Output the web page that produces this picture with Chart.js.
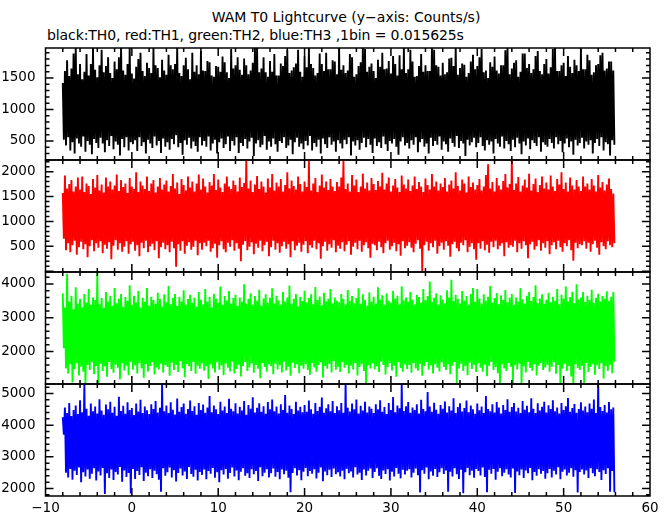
<!DOCTYPE html>
<html>
<head>
<meta charset="utf-8">
<title>WAM T0 Lightcurve</title>
<script src="https://cdn.jsdelivr.net/npm/chart.js@4.4.1/dist/chart.umd.min.js"></script>
<style>
  body { margin: 0; background: #fff; }
  #wrap { position: relative; width: 672px; height: 515px; overflow: hidden; background: #fff;
          font-family: "DejaVu Sans", sans-serif; }
  .txt { position: absolute; white-space: nowrap; font-size: 14px; line-height: 16px; color: #000; }
  #title { left: 0; width: 692px; text-align: center; top: 9px; }
  #subtitle { left: 47px; top: 27px; letter-spacing: -0.1px; }
  canvas { position: absolute; left: 0; }
</style>
</head>
<body>
<div id="wrap">
  <div class="txt" id="title">WAM T0 Lightcurve (y−axis: Counts/s)</div>
  <div class="txt" id="subtitle">black:TH0, red:TH1, green:TH2, blue:TH3 ,1bin = 0.015625s</div>
  <canvas id="th0" width="672" height="120" style="top:44px"></canvas>
  <canvas id="th1" width="672" height="120" style="top:156px"></canvas>
  <canvas id="th2" width="672" height="120" style="top:268px"></canvas>
  <canvas id="th3" width="672" height="135" style="top:380px"></canvas>
</div>
<script>
// light curve starts at -8 s; one point every 0.125 s, alternating upper / lower excursion
const tStart = -8;
const tStep = 0.125;
const xTicks = [-10, 0, 10, 20, 30, 40, 50, 60];

// TH0 (black)
const th0High = [
  1420, 1610, 1780, 1530, 1650, 1890, 1990, 1560, 1720, 1480, 1600, 1880, 1540, 1720, 1990, 1630,
  1510, 1700, 1950, 1590, 1690, 1830, 1580, 1500, 1760, 1640, 1830, 1990, 1620, 1550, 1720, 2010,
  1570, 1490, 1680, 1800, 1900, 1610, 1530, 1740, 1660, 1580, 1980, 1700, 1660, 1510, 1790, 1620,
  1550, 1870, 1700, 1640, 1720, 1990, 1580, 1530, 1700, 1820, 1640, 1480, 1900, 1600, 1700, 1560,
  1930, 1620, 1610, 1770, 1750, 1540, 1520, 1690, 1680, 1600, 1840, 1750, 1590, 1500, 1960, 1650,
  1700, 1830, 1630, 1550, 1810, 1700, 1560, 1620, 1740, 1990, 2000, 1590, 1650, 1830, 1590, 1520,
  1770, 1600, 1880, 1540, 1540, 1730, 1690, 1850, 1940, 1580, 1620, 1670, 1730, 1950, 1600, 1520,
  1850, 1670, 1990, 1720, 1660, 1540, 1580, 1890, 1720, 1610, 1900, 1640, 1640, 1780, 1760, 1560,
  1980, 1630, 1700, 1580, 1620, 1880, 1830, 1520, 1560, 1690, 1750, 1990, 1960, 1600, 1680, 1730,
  1610, 1500, 1790, 1680, 1900, 1640, 1650, 1770, 1570, 1850, 1720, 1540, 1860, 1640, 1990, 1580,
  1640, 1950, 1760, 1520, 1530, 1690, 1880, 1600, 1700, 1610, 1610, 1980, 1950, 1700, 1680, 1540,
  1740, 1560, 1590, 1810, 1820, 1690, 2000, 1550, 1660, 1730, 1710, 1520, 1580, 1760, 1870, 1640,
  1690, 1830, 1960, 1590, 1620, 1500, 1750, 1680, 1840, 1620, 1570, 1700, 1700, 1940, 1990, 1560,
  1650, 1740, 1780, 1520, 1600, 1890, 1890, 1660, 1720, 1580, 1640, 1850, 1930, 1610, 1560, 1720,
  1800, 1570, 1670, 1960, 1990, 1610, 1610, 1700, 1740, 1530, 1850, 1680, 1580, 1790, 1700, 1610,
  1960, 1640, 1640, 1870, 1780, 1550, 1590, 1700, 1720, 1860, 1900, 1620, 1650, 1760, 1760, 1620
];
const th0Low = [
  520, 430, 560, 350, 480, 300, 540, 460, 410, 570, 330, 500, 440, 290, 530, 470,
  390, 550, 460, 320, 510, 420, 580, 370, 490, 440, 270, 530, 400, 560, 350, 480,
  450, 510, 340, 560, 420, 480, 300, 520, 460, 390, 570, 430, 500, 310, 540, 410,
  480, 360, 530, 450, 590, 400, 470, 280, 510, 440, 550, 380, 490, 420, 330, 560,
  430, 500, 410, 570, 350, 460, 520, 300, 480, 540, 390, 450, 570, 340, 500, 430,
  560, 310, 470, 420, 530, 380, 490, 550, 260, 460, 510, 400, 440, 580, 360, 490,
  410, 540, 450, 330, 500, 470, 560, 390, 430, 520, 290, 480, 550, 410, 460, 370,
  500, 430, 580, 350, 470, 410, 520, 300, 540, 450, 390, 560, 440, 490, 330, 510,
  460, 380, 520, 450, 560, 270, 490, 430, 510, 360, 470, 550, 400, 530, 440, 310,
  540, 420, 480, 390, 570, 450, 340, 500, 460, 530, 410, 280, 490, 560, 430, 470,
  380, 510, 440, 560, 320, 480, 530, 410, 460, 300, 550, 420, 500, 440, 570, 360,
  490, 450, 330, 540, 470, 410, 580, 390, 500, 460, 260, 520, 430, 480, 550, 400,
  470, 560, 420, 350, 510, 440, 490, 300, 530, 460, 410, 570, 380, 500, 450, 340,
  520, 400, 550, 460, 290, 490, 430, 540, 370, 510, 470, 420, 560, 330, 480, 440,
  410, 530, 470, 380, 560, 450, 500, 320, 460, 540, 400, 490, 280, 520, 430, 470,
  550, 380, 490, 440, 510, 300, 470, 530, 420, 560, 350, 480, 450, 270, 510, 440
];
const th0Ticks = [500, 1000, 1500];

// TH1 (red)
const th1High = [
  1570, 1920, 1660, 1750, 1830, 1600, 1700, 1880, 1640, 1900, 1590, 1760, 1710, 1550, 1850, 1680,
  1930, 1620, 1740, 1580, 1880, 1700, 1800, 1640, 1720, 1940, 1610, 1830, 1690, 1760, 1570, 1870,
  1700, 1650, 1990, 1590, 1800, 1720, 1650, 1900, 1610, 1760, 1830, 1580, 1700, 1870, 1640, 1740,
  1820, 1600, 1710, 1950, 1660, 1780, 1550, 1850, 1730, 1620, 1900, 1680, 1800, 1600, 1760, 1940,
  1640, 1860, 1700, 1580, 1790, 1720, 1950, 1630, 1840, 1680, 1590, 1760, 1900, 1700, 1650, 1820,
  1730, 1600, 1880, 1690, 1770, 2240, 1660, 1820, 1590, 1740, 1910, 1650, 1800, 1700, 1580, 1860,
  1680, 1950, 1620, 1780, 1700, 1850, 1600, 1730, 1990, 1660, 1820, 1710, 1640, 1900, 1750, 1600,
  1800, 1690, 2240, 1620, 1760, 1870, 1590, 1720, 1940, 1680, 1800, 1630, 1850, 1700, 1610, 1790,
  1700, 1880, 2240, 1650, 1760, 1600, 1930, 1720, 1840, 1590, 1700, 1960, 1660, 1780, 1620, 1870,
  1750, 1630, 1810, 1700, 1980, 1640, 1760, 1880, 1600, 1720, 1850, 1680, 1590, 1920, 1740, 1660,
  1840, 1610, 1720, 1900, 1650, 1790, 1700, 1590, 1860, 1730, 1640, 1950, 1700, 1800, 1620, 1760,
  1690, 1870, 1600, 1740, 1820, 1660, 1990, 1710, 1620, 1840, 1760, 1580, 1900, 1690, 1780, 1640,
  1730, 1850, 1620, 1700, 1930, 2150, 1660, 1790, 1600, 1870, 1720, 1640, 1810, 1950, 1680, 1750,
  2240, 1630, 1760, 1890, 1600, 1720, 1840, 1680, 1960, 1620, 1750, 1860, 1590, 1730, 1900, 1660,
  1780, 1640, 1920, 1700, 1610, 1850, 1740, 1990, 1650, 1780, 1600, 1880, 1720, 1640, 1830, 1700,
  1610, 1900, 1700, 1760, 1640, 1850, 1720, 1600, 1930, 1680, 1790, 1620, 1740, 1860, 1650, 1560
];
const th1Low = [
  650, 420, 560, 380, 520, 610, 330, 480, 590, 440, 540, 280, 500, 620, 400, 560,
  470, 600, 360, 530, 450, 580, 240, 510, 620, 430, 560, 390, 490, 600, 350, 540,
  590, 410, 520, 300, 570, 460, 610, 380, 500, 550, 420, 600, 260, 480, 570, 440,
  520, 380, 590, 460, 90, 540, 410, 600, 350, 510, 580, 430, 490, 610, 320, 560,
  430, 570, 500, 610, 390, 460, 550, 270, 520, 600, 440, 380, 570, 490, 620, 410,
  560, 450, 200, 530, 600, 420, 490, 580, 340, 550, 470, 610, 400, 520, 590, 300,
  480, 610, 430, 560, 370, 500, 590, 450, 540, 280, 600, 420, 510, 570, 390, 530,
  600, 360, 520, 470, 610, 440, 560, 250, 500, 590, 410, 540, 470, 620, 380, 510,
  450, 580, 400, 530, 600, 330, 490, 570, 440, 610, 390, 520, 580, 460, 270, 550,
  520, 420, 590, 480, 360, 560, 610, 430, 500, 570, 400, 540, 310, 600, 460, 510,
  580, 470, 380, 550, 620, 450, 0, 520, 590, 410, 560, 480, 610, 350, 500, 570,
  430, 600, 510, 290, 540, 590, 460, 400, 570, 520, 620, 380, 490, 560, 440, 230,
  560, 450, 600, 420, 530, 370, 590, 480, 610, 440, 510, 560, 300, 580, 470, 520,
  490, 610, 380, 560, 450, 600, 520, 260, 540, 590, 430, 500, 620, 410, 560, 470,
  600, 340, 520, 580, 440, 610, 480, 390, 560, 500, 620, 420, 210, 570, 460, 540,
  520, 600, 450, 570, 390, 540, 610, 470, 330, 580, 500, 440, 600, 520, 480, 560
];
const th1Ticks = [500, 1000, 1500, 2000];

// TH2 (green)
const th2High = [
  3720, 3300, 4300, 3480, 3650, 3250, 3900, 3420, 3560, 3310, 3700, 3450, 3850, 3380, 3600, 3520,
  4320, 3400, 3580, 3290, 3760, 3480, 3650, 3350, 3880, 3430, 3560, 3700, 3320, 3610, 3500, 3960,
  3380, 3650, 3450, 3790, 3300, 3590, 3470, 3880, 3360, 3620, 3520, 3410, 3740, 3560, 3330, 3690,
  3460, 3940, 3400, 3580, 3700, 3350, 3620, 3480, 3810, 3390, 3550, 3680, 3440, 3590, 3320, 3760,
  3530, 3400, 3850, 3480, 3620, 3300, 3710, 3560, 3450, 3920, 3380, 3640, 3510, 3790, 3420, 3580,
  3680, 3350, 3600, 3470, 3990, 3410, 3560, 3720, 3380, 3640, 3500, 3830, 3360, 3570, 3690, 3440,
  3590, 3870, 3420, 3650, 3510, 3380, 3760, 3480, 3600, 3950, 3410, 3560, 3700, 3340, 3620, 3490,
  3800, 3450, 3580, 3690, 3400, 3910, 3520, 3630, 3370, 3740, 3480, 3560, 3850, 3420, 3600, 3510,
  3460, 3700, 3560, 3390, 3820, 3500, 3640, 3430, 3580, 3870, 3410, 3690, 3530, 3360, 3750, 3480,
  3620, 3410, 3900, 3540, 3660, 3380, 3720, 3500, 3440, 3800, 3570, 3650, 3400, 3930, 3510, 3600,
  3480, 3760, 3530, 3390, 3680, 3610, 3450, 3850, 3520, 3640, 4070, 3470, 3590, 3720, 3380, 3660,
  3540, 3430, 3810, 3600, 4120, 3490, 3680, 3560, 3420, 3790, 3510, 3640, 3380, 3700, 3880, 3470,
  3850, 3560, 3420, 3690, 3510, 3620, 3940, 3440, 3580, 3730, 3400, 3660, 3520, 3820, 3460, 3590,
  3700, 3380, 3600, 3480, 3880, 3540, 3420, 3650, 3760, 3500, 3610, 3960, 3430, 3570, 3690, 3410,
  3530, 3740, 3460, 3620, 3500, 3850, 3400, 3680, 3570, 3920, 3480, 3610, 3770, 3430, 3990, 3540,
  3600, 3760, 3470, 3650, 3520, 3830, 3440, 3590, 3710, 3480, 3640, 3560, 3780, 3500, 3620, 3760
];
const th2Low = [
  2100, 1500, 1350, 1620, 1080, 1480, 1660, 1290, 1550, 1400, 1010, 1600, 1450, 1680, 1330, 1570,
  1030, 1640, 1420, 1560, 1250, 1690, 1480, 1370, 1610, 1520, 1180, 1650, 1440, 1580, 1300, 1700,
  1460, 1590, 1350, 1660, 1500, 1220, 1620, 1410, 1570, 1680, 1320, 1530, 1470, 1640, 1380, 1600,
  1550, 1280, 1670, 1450, 1600, 1390, 1710, 1500, 1240, 1630, 1560, 1420, 1690, 1340, 1580, 1490,
  1650, 1430, 1560, 1190, 1620, 1500, 1380, 1680, 1460, 1590, 1300, 1640, 1520, 1410, 1700, 1350,
  1480, 1610, 1260, 1570, 1690, 1420, 1530, 1650, 1370, 1600, 1490, 1210, 1660, 1540, 1400, 1620,
  1560, 1330, 1640, 1470, 1590, 1380, 1700, 1440, 1550, 1280, 1670, 1510, 1620, 1360, 1580, 1490,
  1620, 1450, 1310, 1660, 1530, 1400, 1600, 1680, 1230, 1570, 1490, 1640, 1380, 1710, 1460, 1550,
  1390, 1680, 1520, 1600, 1350, 1580, 1470, 1660, 1290, 1540, 1630, 1420, 1020, 1590, 1500, 1650,
  1470, 1560, 1390, 1700, 1600, 1320, 1540, 1650, 1440, 1580, 1250, 1690, 1510, 1400, 1620, 1480,
  1600, 1370, 1660, 1500, 1430, 1640, 1280, 1570, 1690, 1460, 1590, 1350, 1620, 1520, 1410, 1680,
  1540, 1450, 1620, 1330, 1580, 1690, 1010, 1500, 1640, 1420, 1560, 1300, 1670, 1480, 1600, 1390,
  1650, 1520, 1400, 1610, 1270, 1580, 1690, 1450, 1540, 1360, 1030, 1620, 1500, 1420, 1660, 1550,
  1000, 1590, 1470, 1640, 1020, 1560, 1380, 1690, 1510, 1430, 1620, 1290, 1580, 1660, 1450, 1530,
  1610, 1400, 1550, 1680, 1340, 1600, 1020, 1490, 1640, 1420, 1570, 1260, 1000, 1620, 1510, 1450,
  1580, 1030, 1660, 1390, 1540, 1620, 1310, 1590, 1480, 1650, 1200, 1560, 1430, 1600, 1360, 1700
];
const th2Ticks = [2000, 3000, 4000];

// TH3 (blue)
const th3High = [
  4250, 4560, 4380, 4700, 4290, 4480, 4620, 4350, 4790, 4410, 5320, 4520, 4300, 4680, 4440, 4590,
  4370, 4820, 4460, 4330, 4650, 4500, 4740, 4390, 4580, 4300, 4900, 4450, 4610, 4360, 4720, 4480,
  4540, 4320, 4680, 4430, 4800, 4380, 4590, 4470, 4350, 4660, 4510, 4760, 4400, 4550, 5310, 4440,
  4620, 4380, 4720, 4490, 4340, 4840, 4420, 4570, 4680, 4360, 4510, 4780, 4450, 4600, 4330, 4700,
  4480, 4650, 4390, 4560, 4920, 4410, 4620, 4500, 4350, 4740, 4460, 4590, 4380, 4830, 4520, 4440,
  4690, 4370, 4580, 4460, 4760, 4330, 4640, 4520, 4880, 4400, 4550, 4690, 4420, 4600, 4360, 4730,
  4500, 4810, 4440, 4590, 4370, 4660, 4480, 4950, 4390, 4620, 4510, 4350, 4740, 4460, 4580, 4410,
  4640, 4420, 4780, 4500, 4360, 4700, 4450, 4580, 4870, 4390, 4530, 4660, 4440, 4760, 4380, 4600,
  4470, 4700, 4390, 5320, 4550, 4430, 4680, 4500, 4810, 4370, 4610, 4460, 4740, 4400, 4590, 4520,
  4380, 4660, 4500, 4790, 4420, 4570, 4350, 4700, 4480, 4890, 4410, 4620, 4530, 5310, 4450, 4600,
  4730, 4390, 4560, 4480, 4660, 4370, 4800, 4510, 4440, 5050, 4590, 4420, 4710, 4490, 4360, 4640,
  4520, 4750, 4400, 4600, 4460, 4850, 4380, 4570, 4690, 4430, 4540, 4780, 4410, 4620, 4500, 4360,
  4680, 4470, 4590, 4380, 4920, 4510, 4440, 4660, 4400, 4730, 4560, 4370, 4640, 4480, 4820, 4420,
  4570, 4700, 4430, 4550, 4380, 4760, 4490, 4610, 4410, 4850, 4520, 4380, 4690, 4460, 4580, 4740,
  4400, 4630, 4510, 4790, 4440, 4560, 4370, 4700, 4480, 4600, 4860, 4420, 4540, 4670, 4390, 4510,
  4720, 4460, 4590, 4410, 4680, 4520, 4810, 4380, 5310, 4570, 4450, 4640, 4400, 4730, 4500, 4560
];
const th3Low = [
  3700, 2500, 2350, 2620, 2280, 2560, 2430, 2660, 2200, 2510, 2380, 2600, 2310, 2470, 2640, 2250,
  2540, 2410, 2650, 1830, 2480, 2330, 2600, 2270, 2520, 2440, 2680, 2210, 2570, 2360, 2490, 1840,
  2620, 2300, 2550, 2430, 2670, 2240, 2500, 2390, 2610, 2330, 2560, 2450, 2280, 1900, 2640, 2400,
  2510, 2660, 2350, 2580, 2220, 2490, 2630, 2410, 2540, 2300, 2680, 2460, 2370, 2590, 2250, 2520,
  2430, 2600, 2290, 2550, 2470, 2650, 2340, 2510, 2200, 2580, 2440, 2620, 2310, 2490, 2660, 2380,
  2570, 2260, 2530, 2640, 2400, 2480, 2330, 2610, 2450, 2550, 2240, 2670, 2390, 2500, 2610, 2350,
  2480, 2630, 2370, 2520, 2290, 2600, 2450, 2560, 2340, 1880, 2490, 2640, 2410, 2580, 2260, 2530,
  2650, 2390, 2550, 2470, 2610, 2320, 2500, 2660, 2230, 2540, 2420, 2590, 2360, 2630, 2450, 2510,
  2380, 2560, 2290, 2620, 2480, 2540, 2350, 2670, 2440, 2500, 2270, 2600, 2410, 2560, 2630, 2330,
  2520, 2640, 2400, 2300, 2570, 2460, 2610, 2250, 2530, 2380, 2650, 2470, 2320, 2590, 2440, 2560,
  2610, 2350, 2500, 2630, 2420, 1870, 2580, 2470, 2660, 2290, 2540, 2400, 2620, 2360, 2510, 2640,
  2460, 2570, 1900, 2530, 2380, 2640, 2450, 2300, 2590, 1850, 2510, 2650, 2420, 2560, 2340, 2620,
  2550, 2410, 2660, 2360, 1880, 2590, 2470, 2620, 2280, 2530, 2640, 2390, 2500, 2610, 2440, 2350,
  2630, 1860, 2540, 2420, 2600, 2330, 2570, 2480, 2650, 2260, 2520, 2400, 2610, 2470, 2550, 2310,
  2480, 2620, 2350, 2560, 2440, 2670, 2290, 2530, 2600, 2410, 2500, 2640, 2370, 2580, 1870, 2520,
  2600, 2440, 2570, 2330, 2640, 2480, 2390, 2610, 2520, 2270, 2580, 2460, 2640, 1900, 2550, 1880
];
const th3Ticks = [2000, 3000, 4000, 5000];

const panels = [
  { id: 'th0', color: '#000000', high: th0High, low: th0Low, ticks: th0Ticks, min: 198, max: 1976, major: 500, minor: 100 },
  { id: 'th1', color: '#ff0000', high: th1High, low: th1Low, ticks: th1Ticks, min: -16, max: 2234, major: 500, minor: 100 },
  { id: 'th2', color: '#00ff00', high: th2High, low: th2Low, ticks: th2Ticks, min: 1038, max: 4352, major: 1000, minor: 200 },
  { id: 'th3', color: '#0000ff', high: th3High, low: th3Low, ticks: th3Ticks, min: 1763, max: 5300, major: 1000, minor: 200 }
];

const tickFont = { family: '"DejaVu Sans", sans-serif', size: 13.5 };

function zigzag(high, low) {
  const pts = [];
  high.forEach((h, k) => {
    pts.push({ x: tStart + 2 * k * tStep, y: h });
    pts.push({ x: tStart + (2 * k + 1) * tStep, y: low[k] });
  });
  return pts;
}

// box around each panel with inward ticks on all four sides
const frameTicks = {
  id: 'frameTicks',
  afterDraw(chart, args, opts) {
    const { ctx, chartArea: a, scales: { x, y } } = chart;
    ctx.save();
    ctx.strokeStyle = '#000';
    ctx.lineWidth = 1.5;
    ctx.beginPath();
    for (let v = -10; v <= 60; v += 2) {
      const px = x.getPixelForValue(v);
      const len = v % 10 === 0 ? 8 : 4;
      ctx.moveTo(px, a.bottom); ctx.lineTo(px, a.bottom - len);
      ctx.moveTo(px, a.top); ctx.lineTo(px, a.top + len);
    }
    for (let v = Math.ceil(opts.min / opts.minor) * opts.minor; v <= opts.max; v += opts.minor) {
      const py = y.getPixelForValue(v);
      const len = v % opts.major === 0 ? 8 : 4;
      ctx.moveTo(a.left, py); ctx.lineTo(a.left + len, py);
      ctx.moveTo(a.right, py); ctx.lineTo(a.right - len, py);
    }
    ctx.rect(a.left, a.top, a.right - a.left, a.bottom - a.top);
    ctx.stroke();
    ctx.restore();
  }
};

function noLabelPadding(s) {
  s.paddingTop = 0;
  s.paddingBottom = 0;
  s.paddingLeft = 0;
  s.paddingRight = 0;
}

panels.forEach((p, i) => {
  const last = i === panels.length - 1;
  new Chart(document.getElementById(p.id), {
    type: 'line',
    data: {
      datasets: [{
        data: zigzag(p.high, p.low),
        borderColor: p.color,
        borderWidth: 1.9,
        pointRadius: 0,
        tension: 0,
        fill: false,
        clip: 0
      }]
    },
    options: {
      responsive: false,
      animation: false,
      events: [],
      layout: { autoPadding: false, padding: { top: 4, bottom: last ? 0 : 4, left: 0, right: 22 } },
      plugins: {
        legend: { display: false },
        tooltip: { enabled: false },
        frameTicks: { min: p.min, max: p.max, major: p.major, minor: p.minor }
      },
      scales: {
        x: {
          type: 'linear',
          min: -10,
          max: 60,
          display: last,
          afterBuildTicks: s => { s.ticks = xTicks.map(v => ({ value: v })); },
          afterFit: s => { s.height = last ? 19 : 0; noLabelPadding(s); },
          grid: { display: false, drawTicks: false },
          border: { display: false },
          ticks: {
            color: '#000',
            font: tickFont,
            padding: 4,
            maxRotation: 0,
            autoSkip: false,
            callback: v => String(v).replace('-', '\u2212')
          }
        },
        y: {
          min: p.min,
          max: p.max,
          afterBuildTicks: s => { s.ticks = p.ticks.map(v => ({ value: v })); },
          afterFit: s => { s.width = 45.5; noLabelPadding(s); },
          grid: { display: false, drawTicks: false },
          border: { display: false },
          ticks: { color: '#000', font: tickFont, padding: 10, callback: v => String(v) }
        }
      }
    },
    plugins: [frameTicks]
  });
});
</script>
</body>
</html>
